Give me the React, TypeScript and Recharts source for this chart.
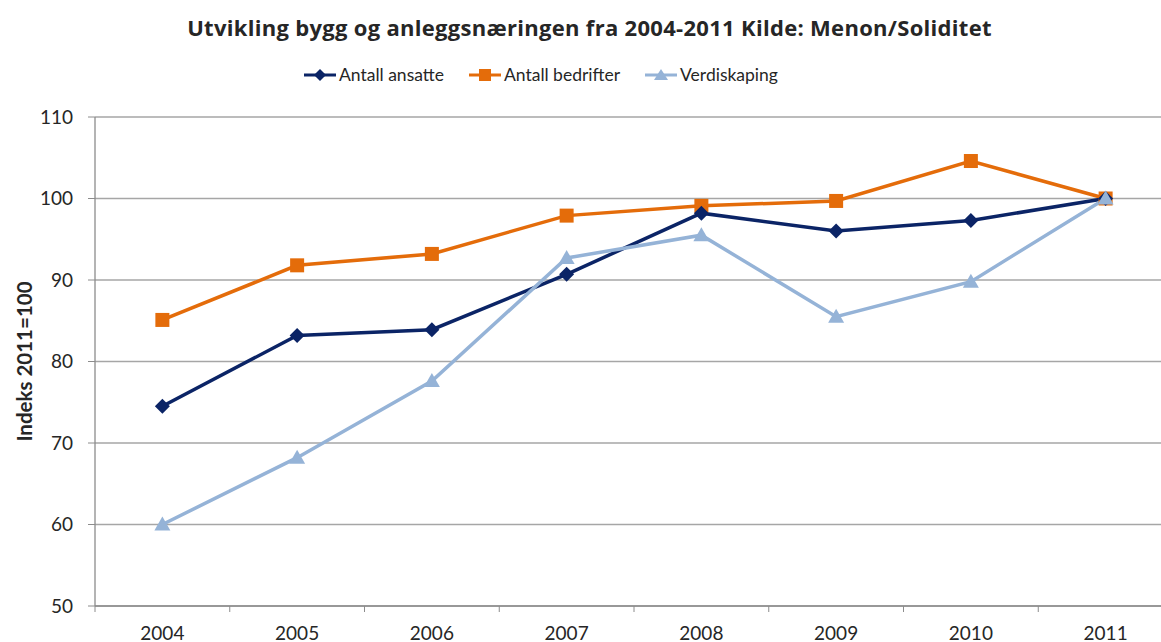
import React from "react";
import { LineChart, Line, XAxis, YAxis, CartesianGrid } from "recharts";

const years = ["2004", "2005", "2006", "2007", "2008", "2009", "2010", "2011"];
const antallAnsatte = [74.5, 83.2, 83.9, 90.7, 98.2, 96.0, 97.3, 100];
const antallBedrifter = [85.1, 91.8, 93.2, 97.9, 99.1, 99.7, 104.6, 100];
const verdiskaping = [60.0, 68.2, 77.6, 92.7, 95.5, 85.5, 89.8, 100];
const yTicks = [50, 60, 70, 80, 90, 100, 110];

const data = years.map((year, i) => ({
  year,
  ansatte: antallAnsatte[i],
  bedrifter: antallBedrifter[i],
  verdi: verdiskaping[i],
}));

const NAVY = "#0b2466";
const ORANGE = "#e46c0a";
const LIGHT = "#95b3d7";
const FONT = "Lato, 'Open Sans', sans-serif";

const CHART_W = 1175;
const CHART_H = 642;
const Y_AXIS_W = 95;
const X_AXIS_H = 36;
const MARGIN = { top: 117, right: 2, bottom: 0, left: 0 };
const PLOT_BOTTOM = CHART_H - MARGIN.bottom - X_AXIS_H;
const HALF_BAND = (CHART_W - MARGIN.left - MARGIN.right - Y_AXIS_W) / years.length / 2;

const Diamond = (props: any) => {
  const { cx, cy } = props;
  if (cx == null || cy == null) return null;
  const r = 7.5;
  return (
    <polygon
      points={`${cx},${cy - r} ${cx + r},${cy} ${cx},${cy + r} ${cx - r},${cy}`}
      fill={NAVY}
    />
  );
};

const Square = (props: any) => {
  const { cx, cy } = props;
  if (cx == null || cy == null) return null;
  return <rect x={cx - 7} y={cy - 7} width={14} height={14} fill={ORANGE} />;
};

const Triangle = (props: any) => {
  const { cx, cy } = props;
  if (cx == null || cy == null) return null;
  return (
    <polygon
      points={`${cx},${cy - 8} ${cx + 8},${cy + 6} ${cx - 8},${cy + 6}`}
      fill={LIGHT}
    />
  );
};

// ticks sit between categories, labels under the points
const XTick = (props: any) => {
  const { x, payload, index } = props;
  const y = PLOT_BOTTOM;
  return (
    <g>
      <line x1={x - HALF_BAND} x2={x - HALF_BAND} y1={y} y2={y + 6} stroke="#8c8c8c" />
      {index === years.length - 1 && (
        <line x1={x + HALF_BAND} x2={x + HALF_BAND} y1={y} y2={y + 6} stroke="#8c8c8c" />
      )}
      <text x={x} y={y + 34} textAnchor="middle" fontSize={19} fill="#262626" fontFamily={FONT}>
        {payload.value}
      </text>
    </g>
  );
};

const YLabel = (props: any) => {
  const vb = props.viewBox || {};
  const cy = vb.height ? vb.y + vb.height / 2 : 364;
  return (
    <text
      x={24}
      y={cy}
      transform={`rotate(-90, 24, ${cy})`}
      textAnchor="middle"
      dominantBaseline="central"
      fontSize={20.5}
      fontWeight="bold"
      fill="#262626"
      fontFamily={FONT}
    >
      Indeks 2011=100
    </text>
  );
};

const legendItems = [
  { label: "Antall ansatte", color: NAVY, marker: "diamond" },
  { label: "Antall bedrifter", color: ORANGE, marker: "square" },
  { label: "Verdiskaping", color: LIGHT, marker: "triangle" },
];

const LegendMarker = ({ color, marker }: { color: string; marker: string }) => (
  <svg width={32} height={16} style={{ display: "block" }}>
    <line x1={0} x2={32} y1={8} y2={8} stroke={color} strokeWidth={3} />
    {marker === "diamond" && <polygon points="16,2 22,8 16,14 10,8" fill={color} />}
    {marker === "square" && <rect x={10} y={2} width={12} height={12} fill={color} />}
    {marker === "triangle" && <polygon points="16,2 23,13 9,13" fill={color} />}
  </svg>
);

export default function App() {
  return (
    <div
      style={{
        position: "fixed",
        top: 0,
        left: 0,
        width: 1161,
        height: 642,
        overflow: "hidden",
        background: "#fff",
        fontFamily: FONT,
      }}
    >
      <div
        style={{
          position: "absolute",
          top: 13,
          left: 0,
          width: 1179,
          textAlign: "center",
          fontWeight: "bold",
          fontSize: 22,
          letterSpacing: 0.3,
          lineHeight: "28px",
          color: "#262626",
          fontFamily: "'Open Sans', sans-serif",
        }}
      >
        Utvikling bygg og anleggsnæringen fra 2004-2011 Kilde: Menon/Soliditet
      </div>
      <div
        style={{
          position: "absolute",
          top: 63,
          left: 304,
          display: "flex",
          alignItems: "center",
          gap: 25,
          fontSize: 17.5,
          lineHeight: "24px",
          color: "#262626",
        }}
      >
        {legendItems.map((item) => (
          <div key={item.label} style={{ display: "flex", alignItems: "center", gap: 3 }}>
            <LegendMarker color={item.color} marker={item.marker} />
            <span>{item.label}</span>
          </div>
        ))}
      </div>
      <div style={{ position: "absolute", top: 0, left: 0 }}>
        <LineChart width={CHART_W} height={CHART_H} data={data} margin={MARGIN}>
          <CartesianGrid horizontal vertical={false} stroke="#a6a6a6" strokeWidth={1.3} />
          <XAxis
            dataKey="year"
            height={X_AXIS_H}
            padding={{ left: HALF_BAND, right: HALF_BAND }}
            tickLine={false}
            tickSize={0}
            tickMargin={0}
            axisLine={{ stroke: "#8c8c8c", strokeWidth: 1.3 }}
            tick={<XTick />}
            interval={0}
          />
          <YAxis
            width={Y_AXIS_W}
            domain={[50, 110]}
            ticks={yTicks}
            interval={0}
            tickSize={7}
            tickMargin={15}
            tickLine={{ stroke: "#8c8c8c" }}
            axisLine={{ stroke: "#8c8c8c", strokeWidth: 1.3 }}
            tick={{ fontSize: 19, fill: "#262626", fontFamily: FONT }}
            label={<YLabel />}
          />
          <Line
            dataKey="bedrifter"
            stroke={ORANGE}
            strokeWidth={3.5}
            dot={<Square />}
            activeDot={false}
            isAnimationActive={false}
          />
          <Line
            dataKey="ansatte"
            stroke={NAVY}
            strokeWidth={3.5}
            dot={<Diamond />}
            activeDot={false}
            isAnimationActive={false}
          />
          <Line
            dataKey="verdi"
            stroke={LIGHT}
            strokeWidth={3.5}
            dot={<Triangle />}
            activeDot={false}
            isAnimationActive={false}
          />
        </LineChart>
      </div>
    </div>
  );
}
